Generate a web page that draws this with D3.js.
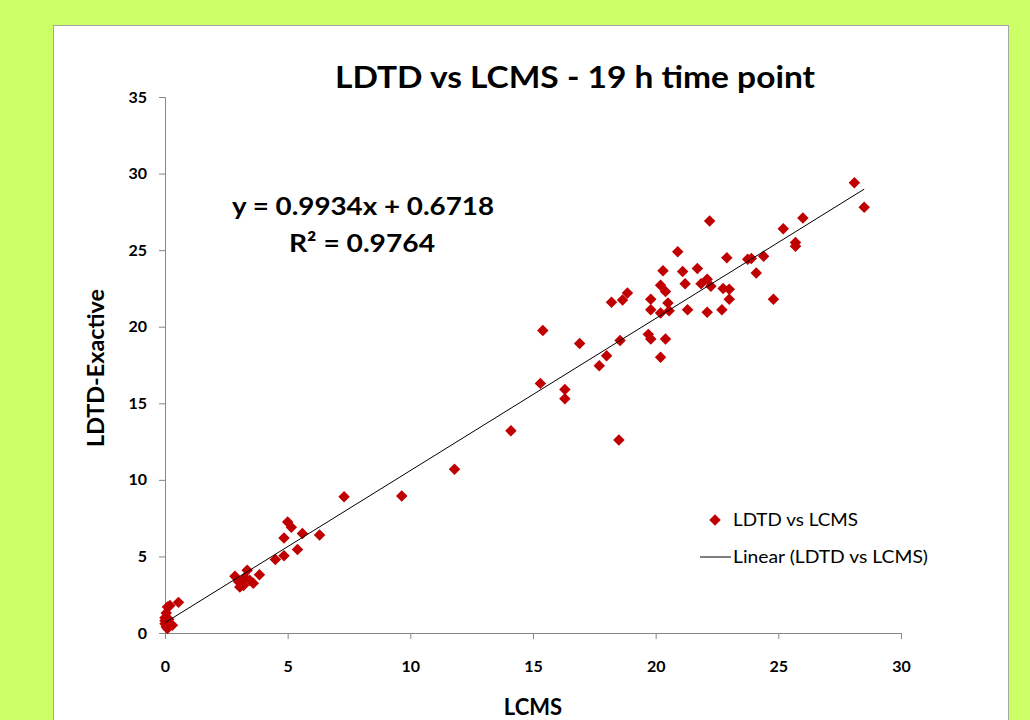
<!DOCTYPE html>
<html>
<head>
<meta charset="utf-8">
<script src="https://cdn.jsdelivr.net/npm/d3@7"></script>
<style>
  html, body { margin: 0; padding: 0; background: #ccff66; }
  svg { display: block; font-family: Lato, "Open Sans", sans-serif; }
</style>
</head>
<body>
<div id="chart"></div>
<script>
// LCMS (x) vs LDTD-Exactive (y)
const lcms = [
  0.0, 0.0, 0.05, 0.1, 0.2, 0.55, 0.05, 0.2, 0.3, 0.1, 0.0, 0.15,
  2.85, 3.05, 3.35, 3.45, 3.6, 3.85, 3.0, 3.25, 3.2,
  4.5, 4.85, 5.4, 4.85, 5.0, 5.15, 5.6, 6.3, 7.3, 9.65, 11.8, 14.1,
  15.3, 16.3, 16.3, 18.5, 15.4, 16.9, 17.7, 18.0, 18.2, 18.55, 18.65, 18.85,
  19.7, 19.8, 19.8, 19.8, 20.2, 20.2, 20.2, 20.3, 20.4, 20.4, 20.5, 20.55,
  20.9, 21.1, 21.2, 21.3, 21.7, 21.85, 22.1, 22.1, 22.2, 22.25, 22.7, 22.75,
  22.9, 23.0, 23.0, 23.75, 23.9, 24.1, 24.4, 24.8, 25.2, 25.7, 25.7, 26.0,
  28.1, 28.5
];
const ldtd = [
  0.8, 1.0, 1.3, 1.7, 1.8, 2.0, 0.4, 0.5, 0.5, 0.3, 0.6, 0.9,
  3.7, 3.0, 4.1, 3.45, 3.25, 3.8, 3.35, 3.6, 3.1,
  4.8, 5.05, 5.45, 6.2, 7.25, 6.9, 6.5, 6.4, 8.9, 8.95, 10.7, 13.2,
  16.3, 15.9, 15.3, 12.6, 19.75, 18.9, 17.45, 18.1, 21.6, 19.1, 21.75, 22.2,
  19.5, 19.2, 21.8, 21.1, 22.7, 20.9, 18.0, 23.65, 22.3, 19.2, 21.55, 21.05,
  24.9, 23.6, 22.8, 21.1, 23.8, 22.8, 23.1, 20.95, 26.9, 22.65, 21.1, 22.5,
  24.5, 22.45, 21.8, 24.4, 24.45, 23.5, 24.6, 21.8, 26.4, 25.5, 25.25, 27.1,
  29.4, 27.8
];
const xTicks = [0, 5, 10, 15, 20, 25, 30];
const yTicks = [0, 5, 10, 15, 20, 25, 30, 35];
const slope = 0.9934, intercept = 0.6718, r2 = 0.9764;

const width = 1030, height = 720;
const svg = d3.select("#chart").append("svg")
  .attr("width", width).attr("height", height);

// white chart panel
svg.append("rect")
  .attr("x", 53.5).attr("y", 25.5)
  .attr("width", 955).attr("height", 720)
  .attr("fill", "#fff").attr("stroke", "#a6a6a6");

const x = d3.scaleLinear().domain([0, 30]).range([165, 901]);
const y = d3.scaleLinear().domain([0, 35]).range([633, 97]);

const axisColor = "#868686";

const xAxis = svg.append("g")
  .attr("transform", `translate(0,${y(0)})`)
  .call(d3.axisBottom(x).tickValues(xTicks).tickSize(6).tickPadding(22));
const yAxis = svg.append("g")
  .attr("transform", `translate(${x(0)},0)`)
  .call(d3.axisLeft(y).tickValues(yTicks).tickSize(6).tickPadding(12));

[xAxis, yAxis].forEach(g => {
  g.select(".domain").attr("stroke", axisColor);
  g.selectAll(".tick line").attr("stroke", axisColor);
  g.selectAll(".tick text")
    .attr("fill", "#000")
    .attr("font-family", "Lato, sans-serif")
    .attr("font-weight", "bold")
    .attr("font-size", 16);
});

// points
const pts = lcms.map((v, i) => ({x: v, y: ldtd[i]}));
const diamond = d3.symbol().type(d3.symbolSquare).size(66);
svg.append("g").selectAll("path")
  .data(pts)
  .join("path")
  .attr("d", diamond)
  .attr("transform", d => `translate(${x(d.x)},${y(d.y)}) rotate(45)`)
  .attr("fill", "#c00000");

// linear trendline
const xs = d3.extent(lcms);
svg.append("line")
  .attr("x1", x(xs[0])).attr("y1", y(slope * xs[0] + intercept))
  .attr("x2", x(xs[1])).attr("y2", y(slope * xs[1] + intercept))
  .attr("stroke", "#000").attr("stroke-width", 1);

// title + labels
svg.append("text")
  .attr("x", 575).attr("y", 88)
  .attr("text-anchor", "middle")
  .attr("font-weight", "bold").attr("font-size", 30)
  .attr("textLength", 480).attr("lengthAdjust", "spacingAndGlyphs")
  .text("LDTD vs LCMS - 19 h time point");

svg.append("text")
  .attr("x", 363).attr("y", 215)
  .attr("text-anchor", "middle")
  .attr("font-weight", "bold").attr("font-size", 25)
  .attr("textLength", 262).attr("lengthAdjust", "spacingAndGlyphs")
  .text(`y = ${slope}x + ${intercept}`);
svg.append("text")
  .attr("x", 362).attr("y", 252)
  .attr("text-anchor", "middle")
  .attr("font-weight", "bold").attr("font-size", 25)
  .attr("textLength", 146).attr("lengthAdjust", "spacingAndGlyphs")
  .text(`R² = ${r2}`);

svg.append("text")
  .attr("x", 533).attr("y", 715)
  .attr("text-anchor", "middle")
  .attr("font-weight", "bold").attr("font-size", 22)
  .text("LCMS");
svg.append("text")
  .attr("transform", "translate(104,368) rotate(-90)")
  .attr("text-anchor", "middle")
  .attr("font-weight", "bold").attr("font-size", 23)
  .attr("textLength", 158).attr("lengthAdjust", "spacingAndGlyphs")
  .text("LDTD-Exactive");

// legend
const legend = svg.append("g").attr("font-size", 18);
legend.append("path")
  .attr("d", diamond)
  .attr("transform", "translate(715,520) rotate(45)")
  .attr("fill", "#c00000");
legend.append("text")
  .attr("x", 733).attr("y", 520).attr("dy", "0.35em")
  .attr("textLength", 125).attr("lengthAdjust", "spacingAndGlyphs")
  .text("LDTD vs LCMS");
legend.append("line")
  .attr("x1", 700).attr("x2", 731).attr("y1", 557).attr("y2", 557)
  .attr("stroke", "#000");
legend.append("text")
  .attr("x", 733).attr("y", 557).attr("dy", "0.35em")
  .attr("textLength", 195).attr("lengthAdjust", "spacingAndGlyphs")
  .text("Linear (LDTD vs LCMS)");
</script>
</body>
</html>
